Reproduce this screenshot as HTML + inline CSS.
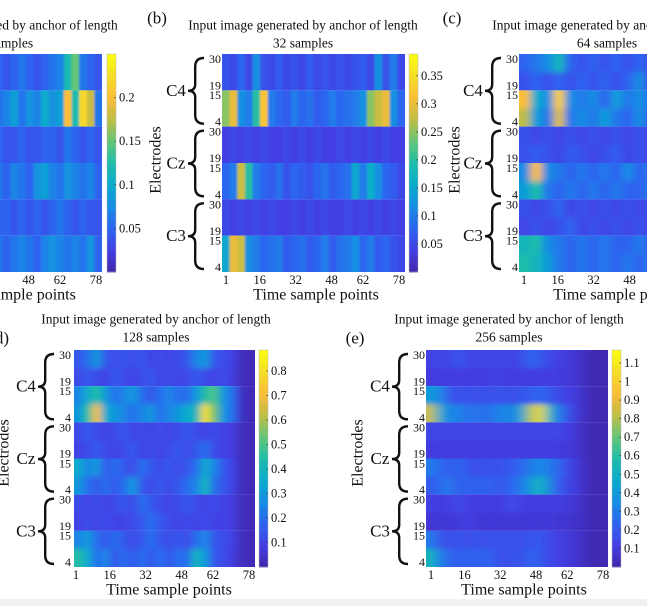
<!DOCTYPE html>
<html><head><meta charset="utf-8"><style>
html,body{margin:0;padding:0;background:#fff;width:647px;height:606px;overflow:hidden}
svg text{font-family:"Liberation Serif",serif;fill:#111}
</style></head><body>
<svg id="fig" width="647" height="606" viewBox="0 0 647 606" xmlns="http://www.w3.org/2000/svg">
<rect x="0" y="0" width="647" height="606" fill="#fff"/>
<rect x="0" y="599" width="647" height="7" fill="#f1f1f3"/>
</svg>
<script>
// ---- data ----
const xTicks=[1,16,32,48,62,78];
const electrodeTicks=[30,19,15,4];
const bandLabels=["C4","Cz","C3"];
const ticksA=[0.05,0.1,0.15,0.2];
const ticksB=[0.05,0.1,0.15,0.2,0.25,0.3,0.35];
const ticksD=[0.1,0.2,0.3,0.4,0.5,0.6,0.7,0.8];
const ticksE=[0.1,0.2,0.3,0.4,0.5,0.6,0.7,0.8,0.9,1,1.1];
const valuesA=[
[.04,.05,.04,.05,.06,.04,.05,.04,.05,.06,.05,.04,.05,.06,.05,.04,.05,.06,.07,.12,.15,.06,.05,.04],
[.06,.08,.05,.07,.06,.09,.05,.07,.06,.08,.06,.07,.09,.06,.08,.07,.10,.08,.09,.20,.12,.22,.18,.06],
[.04,.05,.04,.04,.05,.04,.04,.05,.04,.04,.05,.04,.04,.05,.04,.04,.05,.05,.04,.06,.05,.04,.05,.04],
[.05,.06,.07,.05,.06,.08,.05,.06,.07,.05,.06,.05,.07,.06,.05,.08,.09,.07,.06,.08,.07,.06,.07,.05],
[.04,.05,.04,.05,.04,.05,.04,.05,.06,.04,.05,.05,.04,.05,.04,.05,.04,.05,.06,.05,.04,.05,.04,.04],
[.05,.06,.05,.07,.06,.05,.06,.07,.06,.05,.06,.05,.06,.07,.06,.05,.07,.08,.07,.06,.07,.06,.08,.05]];
const valuesB=[
[.06,.05,.08,.05,.12,.06,.05,.07,.05,.06,.05,.07,.05,.06,.05,.06,.05,.06,.07,.05,.12,.06,.10,.05],
[.25,.30,.12,.10,.20,.32,.10,.08,.07,.10,.08,.09,.07,.08,.10,.08,.09,.10,.12,.25,.28,.30,.12,.08],
[.04,.05,.04,.05,.04,.05,.04,.04,.05,.04,.05,.04,.05,.04,.04,.05,.04,.05,.04,.05,.04,.05,.04,.04],
[.08,.10,.28,.20,.10,.08,.07,.09,.06,.08,.07,.06,.08,.09,.07,.08,.09,.15,.10,.16,.12,.08,.07,.05],
[.05,.04,.05,.04,.05,.04,.05,.04,.04,.05,.04,.05,.04,.05,.04,.04,.05,.04,.05,.04,.05,.04,.05,.04],
[.15,.30,.28,.12,.10,.08,.09,.10,.07,.08,.09,.07,.08,.10,.07,.09,.10,.12,.08,.10,.07,.08,.06,.05]];
const valuesC=[
[.2,.25,.3,.45,.2,.15,.2,.15,.2,.15,.2,.15,.2,.15,.2,.15],
[.15,.2,.15,.2,.15,.2,.15,.2,.15,.2,.3,.15,.2,.15,.2,.15],
[.8,.4,.3,.85,.3,.25,.3,.2,.35,.25,.3,.25,.4,.25,.3,.2],
[.7,.35,.25,.75,.25,.3,.25,.35,.25,.2,.3,.2,.3,.2,.25,.2],
[.15,.12,.15,.12,.15,.12,.15,.12,.15,.12,.15,.12,.15,.12,.15,.12],
[.15,.18,.15,.12,.18,.15,.12,.15,.18,.12,.15,.12,.15,.18,.12,.15],
[.3,.8,.3,.25,.2,.25,.2,.25,.2,.3,.2,.25,.2,.25,.2,.2],
[.35,.5,.25,.2,.25,.2,.25,.2,.25,.2,.2,.25,.2,.2,.25,.2],
[.15,.12,.15,.2,.12,.15,.12,.15,.12,.15,.12,.15,.12,.15,.12,.15],
[.12,.15,.12,.15,.2,.12,.15,.12,.15,.12,.15,.12,.15,.12,.15,.12],
[.45,.5,.3,.25,.2,.25,.2,.25,.2,.2,.25,.2,.25,.2,.2,.25],
[.5,.45,.35,.25,.2,.25,.2,.25,.2,.25,.2,.25,.2,.2,.25,.2]];
const valuesD=[
[.15,.2,.3,.15,.12,.15,.12,.15,.1,.12,.1,.12,.15,.25,.3,.15,.12,.1,.03,.02],
[.12,.15,.12,.1,.15,.12,.1,.12,.15,.1,.12,.1,.12,.15,.12,.1,.12,.08,.03,.02],
[.25,.35,.45,.3,.2,.25,.3,.2,.15,.2,.25,.2,.2,.3,.45,.5,.3,.2,.04,.02],
[.3,.45,.7,.35,.3,.25,.2,.25,.3,.2,.25,.3,.35,.4,.8,.55,.3,.2,.04,.02],
[.12,.15,.12,.1,.12,.15,.1,.12,.1,.12,.1,.12,.15,.12,.1,.12,.1,.08,.03,.02],
[.1,.12,.15,.12,.1,.12,.15,.1,.12,.1,.12,.15,.12,.15,.2,.12,.1,.08,.03,.02],
[.35,.25,.3,.15,.2,.15,.12,.2,.15,.12,.15,.12,.15,.2,.35,.25,.15,.1,.03,.02],
[.3,.2,.15,.2,.15,.2,.3,.15,.12,.15,.12,.15,.2,.25,.4,.2,.15,.1,.03,.02],
[.12,.1,.12,.1,.12,.15,.12,.2,.15,.12,.1,.12,.15,.12,.1,.12,.1,.08,.03,.02],
[.1,.12,.1,.12,.1,.1,.12,.15,.2,.15,.12,.1,.12,.1,.12,.1,.1,.08,.03,.02],
[.25,.3,.2,.15,.2,.15,.12,.15,.2,.15,.12,.15,.12,.2,.25,.15,.12,.1,.03,.02],
[.45,.35,.2,.25,.15,.2,.15,.2,.15,.2,.15,.2,.2,.4,.3,.15,.12,.08,.03,.02]];
const valuesE=[
[.12,.15,.12,.2,.15,.12,.15,.12,.15,.12,.15,.25,.2,.15,.12,.1,.08,.04,.02,.02],
[.1,.12,.1,.12,.1,.12,.1,.15,.1,.12,.1,.12,.1,.12,.1,.1,.08,.04,.02,.02],
[.4,.35,.2,.15,.2,.15,.2,.15,.2,.15,.2,.2,.25,.2,.15,.12,.1,.04,.02,.02],
[.85,.5,.3,.35,.25,.3,.25,.3,.35,.3,.45,.8,1.05,.55,.3,.2,.1,.04,.02,.02],
[.15,.12,.15,.12,.15,.12,.15,.12,.15,.12,.15,.12,.15,.12,.15,.12,.08,.04,.02,.02],
[.1,.12,.1,.12,.1,.12,.1,.12,.1,.12,.1,.12,.1,.12,.1,.1,.08,.04,.02,.02],
[.3,.25,.2,.25,.2,.15,.2,.15,.2,.2,.25,.3,.35,.3,.25,.15,.1,.04,.02,.02],
[.2,.25,.3,.2,.25,.2,.25,.2,.2,.25,.3,.4,.55,.35,.2,.15,.1,.04,.02,.02],
[.12,.1,.12,.15,.12,.1,.12,.1,.12,.15,.12,.1,.12,.1,.12,.1,.08,.04,.02,.02],
[.08,.1,.08,.1,.12,.1,.08,.1,.08,.1,.08,.1,.08,.1,.08,.08,.06,.04,.02,.02],
[.3,.2,.15,.2,.15,.2,.15,.2,.15,.2,.15,.2,.2,.15,.12,.1,.08,.04,.02,.02],
[.55,.3,.25,.2,.25,.2,.25,.2,.15,.2,.15,.25,.2,.15,.12,.1,.08,.04,.02,.02]];

// ---- rendering ----
const NS="http://www.w3.org/2000/svg";
const svg=document.getElementById('fig');
const stops=[[0,62,38,168],[.1,68,62,228],[.2,45,100,240],[.3,22,140,228],[.4,10,172,205],[.5,30,188,170],[.6,100,198,120],[.7,190,190,70],[.8,250,190,55],[.9,246,222,40],[1,249,251,14]];
function parula(t){t=Math.max(0,Math.min(1,t));for(let i=1;i<stops.length;i++){if(t<=stops[i][0]){const a=stops[i-1],b=stops[i],f=(t-a[0])/(b[0]-a[0]);return `rgb(${Math.round(a[1]+f*(b[1]-a[1]))},${Math.round(a[2]+f*(b[2]-a[2]))},${Math.round(a[3]+f*(b[3]-a[3]))})`;}}return 'rgb(249,251,14)';}
function mk(tag,attrs,parent){const e=document.createElementNS(NS,tag);for(const k in attrs)e.setAttribute(k,attrs[k]);(parent||svg).appendChild(e);return e;}
function txt(s,x,y,size,anchor,parent){const t=mk('text',{x:x,y:y,'font-size':size,'text-anchor':anchor||'middle','dominant-baseline':'central'},parent);t.textContent=s;return t;}
const defs=mk('defs',{});
let uid=0;

function panel(cfg){
  const g=mk('g',{});
  
  
  const {hx,hy,hw,hh,data,max}=cfg;
  const rows=data.length,cols=data[0].length,halves=6,rph=rows/halves;
  const cw=hw/cols,rh=hh/rows,pad=14;
  const fid='f'+(uid++);
  const f=mk('filter',{id:fid,filterUnits:'userSpaceOnUse',x:hx-40,y:hy-40,width:hw+80,height:hh+80},defs);
  mk('feGaussianBlur',{stdDeviation:cfg.blur},f);
  for(let h=0;h<halves;h++){
    const cid='c'+(uid++);
    const cp=mk('clipPath',{id:cid},defs);
    mk('rect',{x:Math.max(hx,0),y:hy+h*hh/halves,width:hw+Math.min(hx,0),height:hh/halves},cp);
    const outer=mk('g',{'clip-path':`url(#${cid})`},g);
    
    
    const inner=mk('g',{filter:`url(#${fid})`},outer);
    const r0=h*rph,r1=(h+1)*rph-1;
    for(let r=r0;r<=r1;r++)for(let c=0;c<cols;c++){
      let x=hx+c*cw,y=hy+r*rh,w=cw+0.6,ht=rh+0.6;
      if(c===0){x-=pad;w+=pad;}
      if(c===cols-1){w+=pad;}
      if(r===r0){y-=pad;ht+=pad;}
      if(r===r1){ht+=pad;}
      const cell=mk('rect',{x:x.toFixed(2),y:y.toFixed(2),width:w.toFixed(2),height:ht.toFixed(2),fill:parula(data[r][c]/max)},inner);
      
      
    }
  }
  const xpos=t=>hx+cfg.x0+(t-1)/77*cfg.xs;
  xTicks.forEach(t=>{
    if(xpos(t)<0||xpos(t)>647)return;
    const l=txt(String(t),xpos(t),hy+hh+8,12.5,'middle',g);
    
    
  });
  const xl=txt('Time sample points',cfg.xlx,hy+hh+23,16,'middle',g);
  
  
  const t1=txt('Input image generated by anchor of length',cfg.tx,cfg.ty,13.5,'middle',g);
  
  
  const t2=txt(cfg.samples+' samples',cfg.tx,cfg.ty+18,13.5,'middle',g);
  
  
  const pl=txt(cfg.letter,cfg.lx,cfg.ly,17,cfg.lanchor||'middle',g);
  
  
  if(cfg.yr!==undefined){
    const bh=hh/3;
    bandLabels.forEach((b,i)=>{
      const top=hy+i*bh;
      electrodeTicks.forEach(e=>{
        const l=txt(String(e),cfg.yr,top+5+(30-e)*(bh-10)/26,12,'end',g);
        
        
      });
      const bl=txt(b,cfg.bx,top+bh/2,17,'middle',g);
      
      
      const x=cfg.bx+12,w=16,y0=top+4,y1=top+bh-3,ym=(y0+y1)/2,h=y1-y0,xm=x+w*0.45;
      const br=mk('path',{d:`M${x+w},${y0} Q${xm},${y0} ${xm},${y0+h*0.13} L${xm},${ym-h*0.1} Q${xm},${ym} ${x},${ym} Q${xm},${ym} ${xm},${ym+h*0.1} L${xm},${y1-h*0.13} Q${xm},${y1} ${x+w},${y1}`,fill:'none',stroke:'#111','stroke-width':2.4},g);
      
      
    });
    const el=txt('Electrodes',0,0,16,'middle',g);
    el.setAttribute('transform',`translate(${cfg.ex},${cfg.ey}) rotate(-90)`);
    
    
  }
  if(cfg.ticks){
    const cb=mk('g',{},g);
    
    
    const n=60;
    for(let i=0;i<n;i++){
      const seg=mk('rect',{x:cfg.cbx,y:(hy+hh-(i+1)*hh/n).toFixed(2),width:9,height:(hh/n+0.5).toFixed(2),fill:parula((i+0.5)/n)},cb);
      
      
    }
    mk('rect',{x:cfg.cbx,y:hy,width:9,height:hh,fill:'none',stroke:'#bbb','stroke-width':0.5},cb);
    cfg.ticks.forEach(v=>{
      const y=hy+hh-v/max*hh;
      mk('line',{x1:cfg.cbx+7,x2:cfg.cbx+9,y1:y,y2:y,stroke:'#333','stroke-width':0.6},cb);
      const l=txt(String(v),cfg.cbx+12,y,12.5,'start',cb);
      
      
    });
  }
}
panel({id:'a',hx:-81,hy:54,hw:183,hh:218,data:valuesA,max:0.25,blur:'1 0.01',x0:4,xs:173,xlx:13,tx:3,ty:25,samples:16,letter:'(a)',lx:-40,ly:18,cbx:107,ticks:ticksA});
panel({id:'b',hx:222,hy:54,hw:183,hh:218,data:valuesB,max:0.389,blur:'1 0.01',x0:4,xs:173,xlx:316,tx:303,ty:25,samples:32,letter:'(b)',lx:157,ly:18,cbx:409,ticks:ticksB,yr:221,bx:176,ex:156,ey:160});
panel({id:'c',hx:519,hy:54,hw:183,hh:218,data:valuesC,max:1,blur:'4 3',x0:5,xs:173,xlx:616,tx:607,ty:25,samples:64,letter:'(c)',lx:452,ly:18,yr:518,bx:473,ex:455,ey:160});
panel({id:'d',hx:74,hy:350,hw:181,hh:217,data:valuesD,max:0.886,blur:'4 3',x0:2,xs:173,xlx:169,tx:156,ty:319,samples:128,letter:'(d)',lx:9,ly:338,lanchor:'end',cbx:259,ticks:ticksD,yr:71,bx:26,ex:4,ey:453});
panel({id:'e',hx:426,hy:350,hw:182,hh:217,data:valuesE,max:1.17,blur:'6 2.5',x0:5,xs:172,xlx:524,tx:509,ty:319,samples:256,letter:'(e)',lx:355,ly:338,cbx:612,ticks:ticksE,yr:425,bx:380,ex:358,ey:453});
</script>
</body></html>
